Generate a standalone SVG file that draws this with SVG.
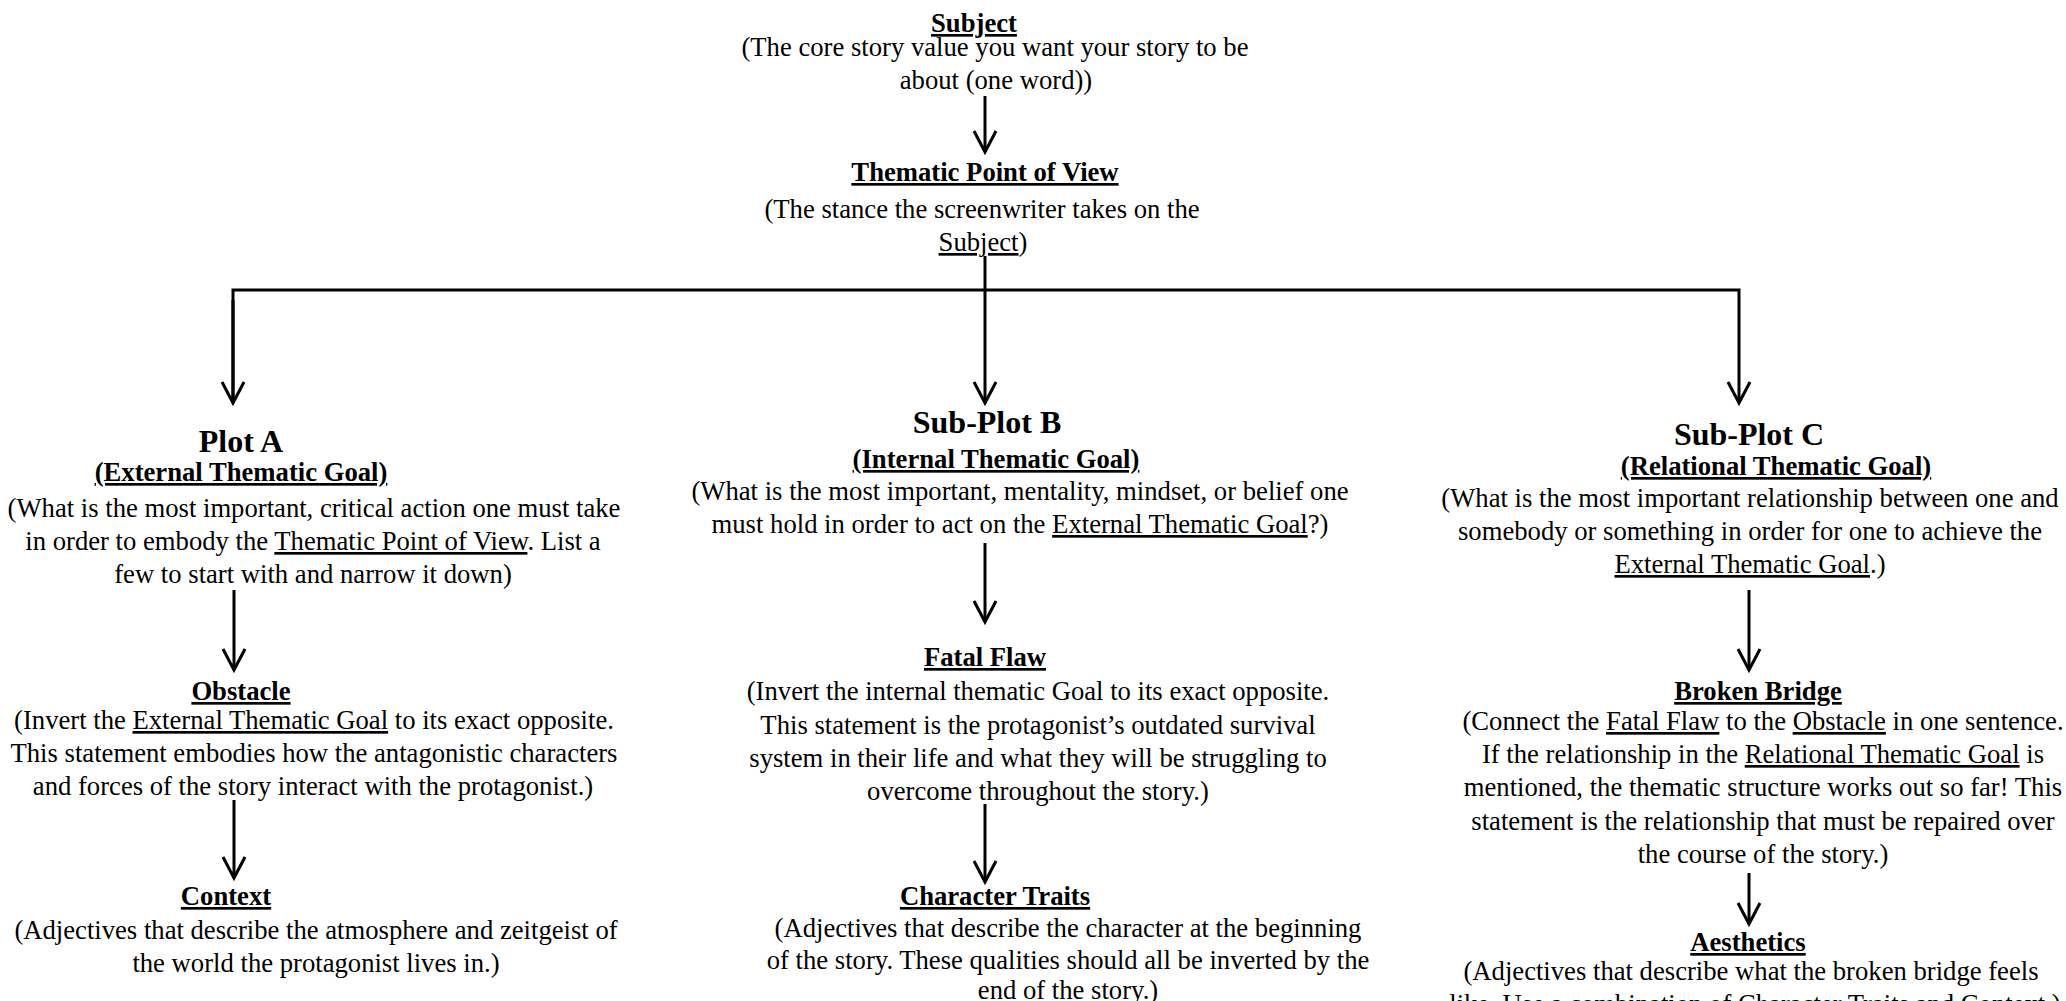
<svg xmlns="http://www.w3.org/2000/svg" width="2066" height="1001" viewBox="0 0 2066 1001">
<style>
text{font-family:"Liberation Serif","Times New Roman",serif;font-size:26.67px;fill:#000;text-anchor:middle}
.b{font-weight:bold}
.h{font-weight:bold;font-size:32px}
.u{text-decoration:underline}
.b.u{text-decoration-thickness:2px}
.c{fill:none;stroke:#000;stroke-width:3}
</style>
<defs>
<marker id="ah" markerUnits="userSpaceOnUse" markerWidth="30" markerHeight="30" refX="0" refY="0" orient="auto" overflow="visible">
<path d="M-21,-11 L0,0 L-21,11" fill="none" stroke="#000" stroke-width="3" stroke-linejoin="miter"/>
</marker>
</defs>
<rect width="2066" height="1001" fill="#fff"/>
<g id="connectors">
<line class="c" x1="985" y1="96" x2="985" y2="152" marker-end="url(#ah)"/>
<path class="c" d="M233,403 V290 H1739 V403" marker-end="url(#ah)"/>
<line class="c" x1="233" y1="300" x2="233" y2="403" marker-end="url(#ah)"/>
<line class="c" x1="985" y1="256" x2="985" y2="403" marker-end="url(#ah)"/>
<line class="c" x1="234" y1="590" x2="234" y2="670" marker-end="url(#ah)"/>
<line class="c" x1="234" y1="800" x2="234" y2="878" marker-end="url(#ah)"/>
<line class="c" x1="985" y1="543" x2="985" y2="622" marker-end="url(#ah)"/>
<line class="c" x1="985" y1="804" x2="985" y2="882" marker-end="url(#ah)"/>
<line class="c" x1="1749" y1="590" x2="1749" y2="670" marker-end="url(#ah)"/>
<line class="c" x1="1749" y1="873" x2="1749" y2="924" marker-end="url(#ah)"/>
</g>
<g id="subject">
<text class="b u" x="974" y="32">Subject</text>
<text x="995" y="56">(The core story value you want your story to be</text>
<text x="996" y="89">about (one word))</text>
</g>
<g id="thematic-pov">
<text class="b u" x="985" y="181">Thematic Point of View</text>
<text x="982" y="218">(The stance the screenwriter takes on the</text>
<text x="983" y="251"><tspan class="u">Subject</tspan>)</text>
</g>
<g id="plot-a">
<text class="h" x="241" y="452">Plot A</text>
<text class="b u" x="241" y="481">(External Thematic Goal)</text>
<text x="314" y="517">(What is the most important, critical action one must take</text>
<text x="313" y="550">in order to embody the <tspan class="u">Thematic Point of View</tspan>. List a</text>
<text x="313" y="583">few to start with and narrow it down)</text>
</g>
<g id="obstacle">
<text class="b u" x="241" y="700">Obstacle</text>
<text x="314" y="729">(Invert the <tspan class="u">External Thematic Goal</tspan> to its exact opposite.</text>
<text x="314" y="762">This statement embodies how the antagonistic characters</text>
<text x="313" y="795">and forces of the story interact with the protagonist.)</text>
</g>
<g id="context">
<text class="b u" x="226" y="905">Context</text>
<text x="316" y="939">(Adjectives that describe the atmosphere and zeitgeist of</text>
<text x="316" y="972">the world the protagonist lives in.)</text>
</g>
<g id="sub-plot-b">
<text class="h" x="987" y="433">Sub-Plot B</text>
<text class="b u" x="996" y="468">(Internal Thematic Goal)</text>
<text x="1020" y="500">(What is the most important, mentality, mindset, or belief one</text>
<text x="1020" y="533">must hold in order to act on the <tspan class="u">External Thematic Goal</tspan>?)</text>
</g>
<g id="fatal-flaw">
<text class="b u" x="985" y="666">Fatal Flaw</text>
<text x="1038" y="700">(Invert the internal thematic Goal to its exact opposite.</text>
<text x="1038" y="734">This statement is the protagonist’s outdated survival</text>
<text x="1038" y="767">system in their life and what they will be struggling to</text>
<text x="1038" y="800">overcome throughout the story.)</text>
</g>
<g id="character-traits">
<text class="b u" x="995" y="905">Character Traits</text>
<text x="1068" y="937">(Adjectives that describe the character at the beginning</text>
<text x="1068" y="969">of the story. These qualities should all be inverted by the</text>
<text x="1068" y="999">end of the story.)</text>
</g>
<g id="sub-plot-c">
<text class="h" x="1749" y="445">Sub-Plot C</text>
<text class="b u" x="1776" y="475">(Relational Thematic Goal)</text>
<text x="1750" y="507">(What is the most important relationship between one and</text>
<text x="1750" y="540">somebody or something in order for one to achieve the</text>
<text x="1750" y="573"><tspan class="u">External Thematic Goal</tspan>.)</text>
</g>
<g id="broken-bridge">
<text class="b u" x="1758" y="700">Broken Bridge</text>
<text x="1763" y="730">(Connect the <tspan class="u">Fatal Flaw</tspan> to the <tspan class="u">Obstacle</tspan> in one sentence.</text>
<text x="1763" y="763">If the relationship in the <tspan class="u">Relational Thematic Goal</tspan> is</text>
<text x="1763" y="796">mentioned, the thematic structure works out so far! This</text>
<text x="1763" y="830">statement is the relationship that must be repaired over</text>
<text x="1763" y="863">the course of the story.)</text>
</g>
<g id="aesthetics">
<text class="b u" x="1748" y="951">Aesthetics</text>
<text x="1751" y="980">(Adjectives that describe what the broken bridge feels</text>
<text x="1755" y="1013">like. Use a combination of <tspan class="u">Character Traits</tspan> and <tspan class="u">Context</tspan>.)</text>
</g>
</svg>
